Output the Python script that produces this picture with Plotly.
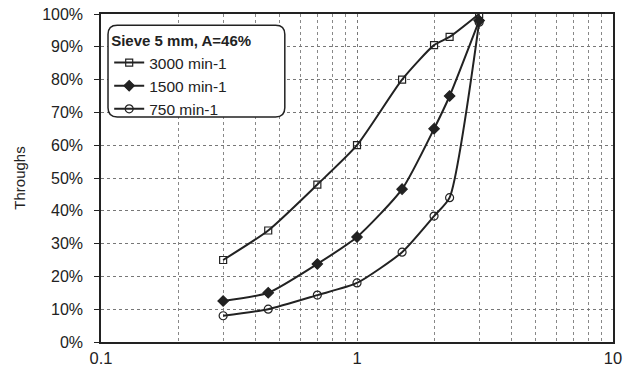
import plotly.graph_objects as go

sizes = [0.3, 0.45, 0.7, 1.0, 1.5, 2.0, 2.3, 3.0]
s3000 = [0.25, 0.34, 0.48, 0.60, 0.80, 0.905, 0.93, 1.00]
s1500 = [0.125, 0.15, 0.238, 0.32, 0.466, 0.65, 0.75, 0.98]
s750 = [0.08, 0.10, 0.143, 0.18, 0.274, 0.384, 0.44, 0.975]
names = ["3000 min-1", "1500 min-1", "750 min-1"]
legend_title = "Sieve 5 mm, A=46%"
y_title = "Throughs"
x_ticks = [0.1, 1, 10]
x_tick_text = ["0.1", "1", "10"]

FONT = "Liberation Sans, Arial, sans-serif"
INK = "#222222"

fig = go.Figure()
series = [
    (s3000, "square-open", 7, names[0]),
    (s1500, "diamond", 8, names[1]),
    (s750, "circle-open", 8, names[2]),
]
for vals, sym, sz, nm in series:
    fig.add_trace(go.Scatter(
        x=sizes, y=vals, name=nm, mode="lines+markers",
        line=dict(color=INK, width=2, shape="spline", smoothing=0.6),
        marker=dict(symbol=sym, size=sz, color=INK,
                    line=dict(color=INK, width=1.2)),
    ))

# rounded legend frame (paper coordinates)
x0, x1, y0, y1 = 0.0137, 0.359, 0.686, 0.966
rx, ry = 0.018, 0.028
frame = (f"M {x0+rx},{y1} L {x1-rx},{y1} Q {x1},{y1} {x1},{y1-ry} "
         f"L {x1},{y0+ry} Q {x1},{y0} {x1-rx},{y0} L {x0+rx},{y0} "
         f"Q {x0},{y0} {x0},{y0+ry} L {x0},{y1-ry} Q {x0},{y1} {x0+rx},{y1} Z")
fig.add_shape(type="path", path=frame, xref="paper", yref="paper",
              fillcolor="white", line=dict(color=INK, width=1.5), layer="above")

fig.update_layout(
    width=630, height=376, autosize=False,
    margin=dict(l=101, r=17, t=14, b=34, pad=0),
    paper_bgcolor="white", plot_bgcolor="white",
    font=dict(family=FONT, size=15, color=INK),
    showlegend=True,
    legend=dict(
        x=0.016, y=0.962, xanchor="left", yanchor="top",
        bgcolor="rgba(0,0,0,0)", borderwidth=0,
        font=dict(size=15.5, color=INK),
        title=dict(text="<b>" + legend_title + "</b>", font=dict(size=15, color=INK)),
        itemwidth=30, tracegroupgap=0,
    ),
)
fig.update_xaxes(
    type="log", range=[-1, 1], automargin=False,
    tickvals=x_ticks, ticktext=x_tick_text,
    showline=True, linecolor=INK, linewidth=1.5, mirror=True,
    ticks="", showgrid=True, gridcolor="#777777", griddash="dot", gridwidth=1,
    minor=dict(dtick="D1", showgrid=True, gridcolor="#888888", griddash="dot", gridwidth=1),
    tickfont=dict(size=16.5), zeroline=False,
)
fig.update_yaxes(
    range=[0, 1], dtick=0.1, tickformat=".0%", automargin=False,
    showline=True, linecolor=INK, linewidth=1.5, mirror=True,
    ticks="outside", ticklen=5, tickcolor=INK, ticklabelstandoff=8,
    showgrid=True, gridcolor="#777777", griddash="dot", gridwidth=1,
    title=dict(text=y_title, font=dict(size=15), standoff=13),
    tickfont=dict(size=16), zeroline=False,
)

fig.write_html("out.html", config={"displayModeBar": False},
               post_script="document.body.style.margin='0';")
